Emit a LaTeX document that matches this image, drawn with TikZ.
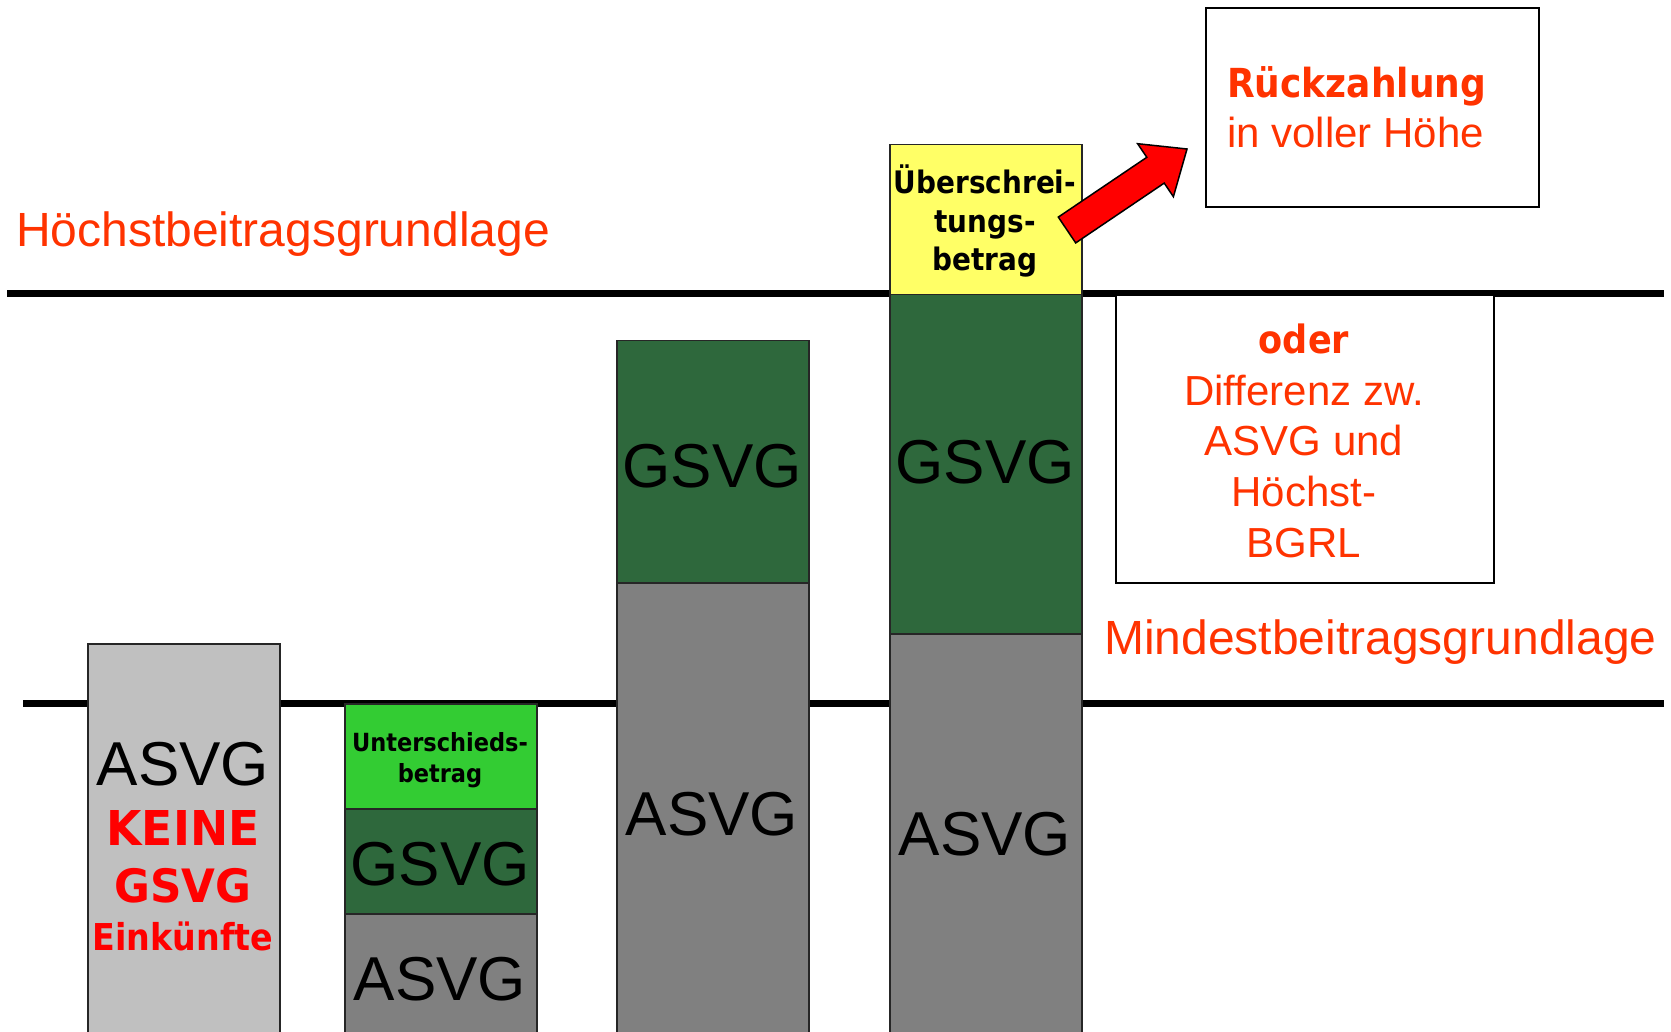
\documentclass[tikz,border=0pt]{standalone}
\usepackage{fontspec}
\setmainfont{Liberation Sans}
\newfontfamily\tah[FakeStretch=0.9]{DejaVu Sans}
\newfontfamily\tahw[FakeStretch=0.95]{DejaVu Sans}
\definecolor{lgray}{HTML}{C0C0C0}
\definecolor{dgreen}{RGB}{46,104,60}
\definecolor{mgray}{HTML}{808080}
\definecolor{bgreen}{HTML}{33CC33}
\definecolor{yel}{HTML}{FFFF66}
\definecolor{ored}{HTML}{FF3300}
\definecolor{pred}{HTML}{FF0000}
\tikzset{
  bar/.style={draw=black!85, line width=1.5pt, anchor=north west, inner sep=0pt, minimum width=192pt},
  frame/.style={draw=black, line width=2pt, fill=white, anchor=north west, inner sep=0pt},
  level/.style={line width=7pt, black},
  big/.style={anchor=base, inner sep=0pt, font=\fontsize{62}{62}\selectfont},
  lbl/.style={anchor=base, inner sep=0pt, text=ored, font=\fontsize{48}{48}\selectfont},
  redb/.style={anchor=base, inner sep=0pt, text=pred, font=\tahw\bfseries\fontsize{48}{48}\selectfont},
  smallb/.style={anchor=base, inner sep=0pt, font=\tah\bfseries\fontsize{25}{25}\selectfont},
  midb/.style={anchor=base, inner sep=0pt, font=\tah\bfseries\fontsize{31}{31}\selectfont},
  note/.style={anchor=base, inner sep=0pt, text=ored, font=\fontsize{42}{42}\selectfont},
  noteb/.style={note, font=\tah\bfseries\fontsize{40}{40}\selectfont},
}
\begin{document}
\begin{tikzpicture}[x=1pt,y=-1pt]
\useasboundingbox (0,0) rectangle (1671,1032);
\fill[white] (0,0) rectangle (1671,1032);
% level lines
\coordinate (hl) at (7,294);
\coordinate (hr) at (1664,294);
\coordinate (ml) at (23,703);
\coordinate (mr) at (1664,703);
\draw[level] (hl) -- (hr);
\draw[level] (ml) -- (mr);
% labels of levels
\node[lbl, anchor=base west] (hoechst) at (16,247) {Höchstbeitragsgrundlage};
\node[lbl, anchor=base west] (mindest) at (1104,654) {Mindestbeitragsgrundlage};
% bar 1
\node[bar, fill=lgray, minimum height=402pt] (b1) at (87,643) {};
\node[big] (b1a) at (183,785) {ASVG};
\node[redb] (b1k) at (183,845) {KEINE};
\node[redb, font=\tahw\bfseries\fontsize{46}{46}\selectfont] (b1g) at (183,902) {GSVG};
\node[redb, font=\tah\bfseries\fontsize{37}{37}\selectfont] (b1e) at (183,950) {Einkünfte};
% bar 2
\node[bar, fill=mgray, minimum height=132pt] (b2a) at (344,913) {};
\node[bar, fill=dgreen, minimum height=105pt] (b2g) at (344,808) {};
\node[bar, fill=bgreen, minimum height=105pt] (b2u) at (344,703) {};
\node[smallb] (b2t1) at (440,751) {Unterschieds-};
\node[smallb] (b2t2) at (440,782) {betrag};
\node[big] (b2gt) at (440,885) {GSVG};
\node[big] (b2at) at (440,1000) {ASVG};
% bar 3
\node[bar, fill=mgray, minimum height=463pt] (b3a) at (616,582) {};
\node[bar, fill=dgreen, minimum height=242pt] (b3g) at (616,340) {};
\node[big] (b3gt) at (712,487) {GSVG};
\node[big] (b3at) at (712,835) {ASVG};
% bar 4
\node[bar, fill=mgray, minimum height=412pt] (b4a) at (889,633) {};
\node[bar, fill=dgreen, minimum height=339pt] (b4g) at (889,294) {};
\node[bar, fill=yel, minimum height=150pt] (b4y) at (889,144) {};
\node[midb] (b4t1) at (985,194) {Überschrei-};
\node[midb] (b4t2) at (985,233) {tungs-};
\node[midb] (b4t3) at (985,271) {betrag};
\node[big] (b4gt) at (985,483) {GSVG};
\node[big] (b4at) at (985,855) {ASVG};
% arrow
\draw[fill=pred, draw=black, line width=1.5pt, line join=miter]
  (1058.3,217.1) -- (1146.8,157.3) -- (1137.6,143.7) -- (1187,149)
  -- (1173.4,196.7) -- (1164.2,183.1) -- (1075.7,242.9) -- cycle;
% Rueckzahlung box
\node[frame, minimum width=333pt, minimum height=199pt] (rz) at (1205,7) {};
\node[noteb, anchor=base west] (rz1) at (1227,98) {Rückzahlung};
\node[note, anchor=base west] (rz2) at (1227,148) {in voller Höhe};
% oder box
\node[frame, minimum width=378pt, minimum height=288pt] (od) at (1115,294) {};
\node[noteb, font=\tah\bfseries\fontsize{39}{39}\selectfont] (od1) at (1304,353) {oder};
\node[note] (od2) at (1304,405) {Differenz zw.};
\node[note] (od3) at (1304,455) {ASVG und};
\node[note] (od4) at (1304,506) {Höchst-};
\node[note] (od5) at (1304,557) {BGRL};
\end{tikzpicture}
\end{document}
